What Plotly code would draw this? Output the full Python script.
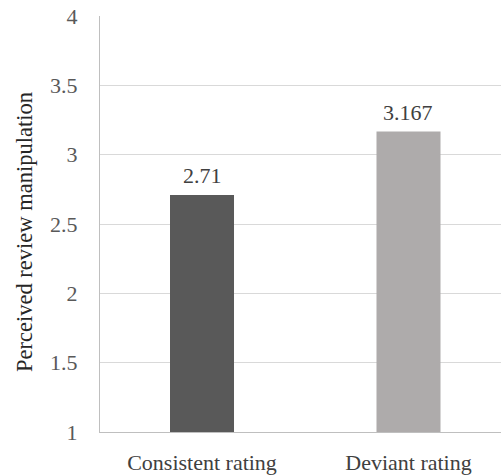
import plotly.graph_objects as go

categories = ["Consistent rating", "Deviant rating"]
values = [2.71, 3.167]
value_labels = ["2.71", "3.167"]
bar_colors = ["#595959", "#aeabab"]
y_floor = 1
y_ticks = [1, 1.5, 2, 2.5, 3, 3.5, 4]
y_tick_labels = ["1", "1.5", "2", "2.5", "3", "3.5", "4"]
y_title = "Perceived review manipulation"

serif = "Liberation Serif"

fig = go.Figure(
    go.Bar(
        x=categories,
        y=[v - y_floor for v in values],
        base=y_floor,
        width=0.31,
        marker=dict(color=bar_colors, line=dict(width=0)),
        hoverinfo="skip",
    )
)

# value labels sitting just above each bar
for cat, val, lab in zip(categories, values, value_labels):
    fig.add_annotation(
        x=cat,
        y=val,
        text=lab,
        showarrow=False,
        yanchor="bottom",
        yshift=5,
        font=dict(family=serif, size=22, color="#404040"),
    )

# vertical axis title, placed by hand
fig.add_annotation(
    xref="paper",
    yref="paper",
    x=0,
    y=0.5,
    xshift=-76,
    yshift=-8,
    text=y_title,
    textangle=-90,
    showarrow=False,
    xanchor="center",
    yanchor="middle",
    font=dict(family=serif, size=22.5, color="#262626"),
)

fig.update_layout(
    width=501,
    height=475,
    margin=dict(l=100, r=0, t=16, b=41),
    paper_bgcolor="white",
    plot_bgcolor="white",
    showlegend=False,
    font=dict(family=serif, size=22, color="#595959"),
)

fig.update_xaxes(
    range=[-0.494, 1.448],
    showline=True,
    linecolor="#bfbfbf",
    linewidth=1,
    showgrid=False,
    ticks="",
    tickfont=dict(family=serif, size=22, color="#404040"),
    ticklabelstandoff=11,
)

fig.update_yaxes(
    range=[1, 4],
    tickvals=y_ticks,
    ticktext=y_tick_labels,
    showline=True,
    linecolor="#bfbfbf",
    linewidth=1,
    showgrid=True,
    gridcolor="#d9d9d9",
    gridwidth=1,
    zeroline=False,
    ticks="",
    ticklabelstandoff=17,
    tickfont=dict(family=serif, size=22, color="#595959"),
)

fig.write_html("out.html")
